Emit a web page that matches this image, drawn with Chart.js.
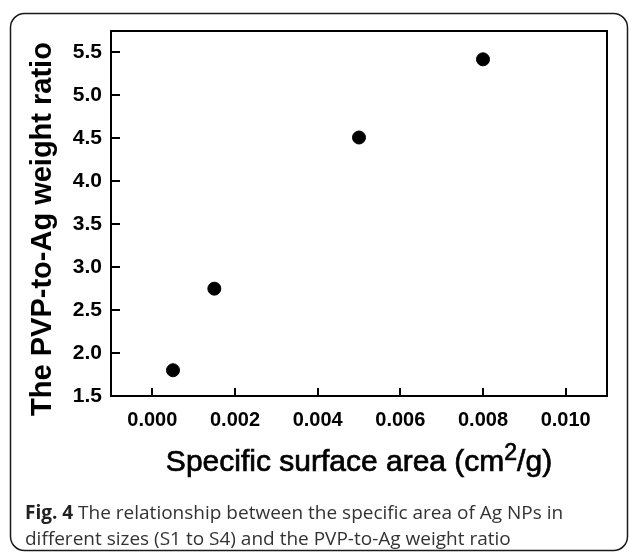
<!DOCTYPE html>
<html>
<head>
<meta charset="utf-8">
<script src="https://cdn.jsdelivr.net/npm/chart.js@4/dist/chart.umd.min.js"></script>
<style>
  html, body { margin: 0; padding: 0; background: #fff; }
  #wrap { width: 629px; height: 552px; position: relative; }
</style>
</head>
<body>
<div id="wrap"><canvas id="c" width="629" height="552"></canvas></div>
<script>
// ---- data ----
const xValues = [0.0005, 0.0015, 0.005, 0.008];
const yValues = [1.80, 2.75, 4.51, 5.42];
const xTicks = [0, 0.002, 0.004, 0.006, 0.008, 0.010];
const yTicks = [1.5, 2.0, 2.5, 3.0, 3.5, 4.0, 4.5, 5.0, 5.5];
const yTitle = 'The PVP-to-Ag weight ratio';
const xTitleMain = 'Specific surface area (cm';
const xTitleSup = '2';
const xTitleEnd = '/g)';
const captionBold = 'Fig. 4';
const captionLine1 = ' The relationship between the specific area of Ag NPs in';
const captionLine2 = 'different sizes (S1 to S4) and the PVP-to-Ag weight ratio';

const points = xValues.map((x, i) => ({ x: x, y: yValues[i] }));

const decor = {
  id: 'decor',
  beforeDraw(chart) {
    const ctx = chart.ctx;
    ctx.save();
    ctx.fillStyle = '#fff';
    ctx.fillRect(0, 0, chart.width, chart.height);
    ctx.strokeStyle = '#1a1a1a';
    ctx.lineWidth = 1.5;
    ctx.beginPath();
    ctx.roundRect(10.5, 13.5, 617, 537, 14);
    ctx.stroke();
    ctx.restore();
  },
  afterDraw(chart) {
    const ctx = chart.ctx;
    const a = chart.chartArea;
    const xs = chart.scales.x, ys = chart.scales.y;
    ctx.save();
    ctx.strokeStyle = '#000';
    ctx.lineWidth = 2;
    ctx.strokeRect(a.left, a.top, a.right - a.left, a.bottom - a.top);
    ctx.beginPath();
    xs.ticks.forEach(t => {
      const px = Math.round(xs.getPixelForValue(t.value));
      ctx.moveTo(px, a.bottom);
      ctx.lineTo(px, a.bottom - 8);
    });
    ys.ticks.forEach(t => {
      const py = Math.round(ys.getPixelForValue(t.value));
      ctx.moveTo(a.left, py);
      ctx.lineTo(a.left + 9, py);
    });
    ctx.stroke();

    // y title
    ctx.fillStyle = '#000';
    ctx.font = 'bold 29px "Liberation Sans", Arial, sans-serif';
    ctx.textAlign = 'center';
    ctx.textBaseline = 'middle';
    ctx.translate(43, 229);
    ctx.rotate(-Math.PI / 2);
    ctx.fillText(yTitle, 0, 0);
    ctx.setTransform(1, 0, 0, 1, 0, 0);

    // x title with superscript
    const mainFont = '30px "Liberation Sans", Arial, sans-serif';
    const supFont = '23px "Liberation Sans", Arial, sans-serif';
    ctx.textAlign = 'left';
    ctx.textBaseline = 'alphabetic';
    ctx.strokeStyle = '#000';
    ctx.lineWidth = 0.7;
    ctx.font = mainFont;
    const w1 = ctx.measureText(xTitleMain).width;
    const w3 = ctx.measureText(xTitleEnd).width;
    ctx.font = supFont;
    const w2 = ctx.measureText(xTitleSup).width;
    const total = w1 + w2 + w3;
    const cx = (a.left + a.right) / 2;
    const x0 = cx - total / 2;
    const base = 471;
    ctx.font = mainFont;
    ctx.fillText(xTitleMain, x0, base);
    ctx.strokeText(xTitleMain, x0, base);
    ctx.font = supFont;
    ctx.fillText(xTitleSup, x0 + w1, base - 11);
    ctx.strokeText(xTitleSup, x0 + w1, base - 11);
    ctx.font = mainFont;
    ctx.fillText(xTitleEnd, x0 + w1 + w2, base);
    ctx.strokeText(xTitleEnd, x0 + w1 + w2, base);

    // caption
    ctx.fillStyle = '#222';
    ctx.font = 'bold 19px "Open Sans", sans-serif';
    const wb = ctx.measureText(captionBold).width;
    ctx.fillText(captionBold, 25, 519);
    ctx.fillStyle = '#333';
    ctx.font = '19px "Open Sans", sans-serif';
    ctx.fillText(captionLine1, 25 + wb, 519);
    ctx.fillText(captionLine2, 25, 545);
    ctx.restore();
  }
};

new Chart(document.getElementById('c'), {
  type: 'scatter',
  data: {
    datasets: [{
      data: points,
      backgroundColor: '#000',
      borderColor: '#000',
      pointRadius: 6.5,
      pointHoverRadius: 6.5
    }]
  },
  options: {
    responsive: false,
    animation: false,
    events: [],
    layout: { padding: { left: 0, top: 31, right: 22, bottom: 0 } },
    plugins: { legend: { display: false }, tooltip: { enabled: false } },
    scales: {
      x: {
        type: 'linear',
        min: -0.001,
        max: 0.011,
        afterBuildTicks: s => { s.ticks = xTicks.map(v => ({ value: v })); },
        afterFit: s => { s.height = 156; },
        grid: { display: true, drawOnChartArea: false, drawTicks: false },
        border: { display: true, color: '#000', width: 2 },
        ticks: {
          color: '#000',
          padding: 12,
          maxRotation: 0,
          autoSkip: false,
          font: { family: '"Liberation Sans", Arial, sans-serif', size: 20, weight: 'bold' },
          callback: v => Number(v).toFixed(3)
        }
      },
      y: {
        type: 'linear',
        min: 1.5,
        max: 5.75,
        afterBuildTicks: s => { s.ticks = yTicks.map(v => ({ value: v })); },
        afterFit: s => { s.width = 111; },
        grid: { display: true, drawOnChartArea: false, drawTicks: false },
        border: { display: true, color: '#000', width: 2 },
        ticks: {
          color: '#000',
          padding: 9,
          autoSkip: false,
          font: { family: '"Liberation Sans", Arial, sans-serif', size: 21, weight: 'bold' },
          callback: v => Number(v).toFixed(1)
        }
      }
    }
  },
  plugins: [decor]
});
</script>
</body>
</html>
